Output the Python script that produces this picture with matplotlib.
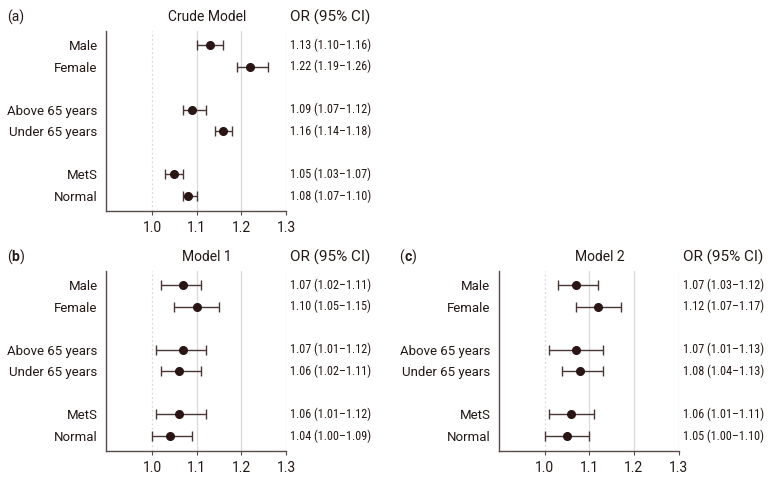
import matplotlib
matplotlib.use("Agg")
import matplotlib.pyplot as plt

plt.rcParams['font.family'] = ['Roboto', 'DejaVu Sans']
NUMFAM = ['Roboto Condensed', 'Roboto', 'DejaVu Sans']

labels = ["Male", "Female", "Above 65 years", "Under 65 years", "MetS", "Normal"]
ypos = [0, 1, 3, 4, 6, 7]

crude_or = [1.13, 1.22, 1.09, 1.16, 1.05, 1.08]
crude_lo = [1.10, 1.19, 1.07, 1.14, 1.03, 1.07]
crude_hi = [1.16, 1.26, 1.12, 1.18, 1.07, 1.10]

m1_or = [1.07, 1.10, 1.07, 1.06, 1.06, 1.04]
m1_lo = [1.02, 1.05, 1.01, 1.02, 1.01, 1.00]
m1_hi = [1.11, 1.15, 1.12, 1.11, 1.12, 1.09]

m2_or = [1.07, 1.12, 1.07, 1.08, 1.06, 1.05]
m2_lo = [1.03, 1.07, 1.01, 1.04, 1.01, 1.00]
m2_hi = [1.12, 1.17, 1.13, 1.13, 1.11, 1.10]

xticks = [1.0, 1.1, 1.2, 1.3]

W, H = 769, 479
fig = plt.figure(figsize=(W / 100, H / 100), dpi=100)

SPINE = '#5a4a4a'
MARK = '#2a1515'
ERR = '#4a3535'
TXT = '#231815'
FS = 9.5


def panel(left_px, top_px, tag, title, orv, lo, hi):
    right_px = left_px + 180
    bottom_px = top_px + 180
    ax = fig.add_axes([left_px / W, 1 - bottom_px / H, (right_px - left_px) / W,
                       (bottom_px - top_px) / H])
    ax.set_xlim(0.897, 1.3)
    ax.set_ylim(7.7, -0.65)
    for x in [1.1, 1.2, 1.3]:
        ax.axvline(x, color='#d9d9d9', lw=0.9, zorder=0)
    ax.axvline(1.0, color='#d9d9d9', lw=0.9, ls=(0, (1.5, 2)), zorder=0)
    errs = [[o - l for o, l in zip(orv, lo)], [h - o for o, h in zip(orv, hi)]]
    ax.errorbar(orv, ypos, xerr=errs, fmt='o', color=MARK, ecolor=ERR,
                elinewidth=1.0, capsize=3.5, capthick=1.0, markersize=5.5, zorder=3)
    ax.set_yticks(ypos)
    ax.set_yticklabels(labels, fontsize=FS, color=TXT)
    ax.set_xticks(xticks)
    ax.set_xticklabels([f"{t:.1f}" for t in xticks], fontsize=FS + 0.5, color=TXT)
    ax.tick_params(axis='y', length=0, pad=6)
    ax.tick_params(axis='x', length=3, width=0.8, color=SPINE, pad=4)
    for s in ['top', 'right']:
        ax.spines[s].set_visible(False)
    for s in ['left', 'bottom']:
        ax.spines[s].set_color(SPINE)
        ax.spines[s].set_linewidth(1.0)
    for o, l, h, y in zip(orv, lo, hi, ypos):
        ax.text(1.31, y, f"{o:.2f} ({l:.2f}\u2013{h:.2f})", transform=ax.transData,
                ha='left', va='center', fontsize=8.7, family=NUMFAM,
                color=TXT, clip_on=False)
    hy = (top_px - 14)
    fig.text((left_px + 101) / W, 1 - hy / H, title, ha='center', va='center',
             fontsize=10, color=TXT)
    fig.text((left_px + 184) / W, 1 - hy / H, "OR (95% CI)", ha='left', va='center',
             fontsize=11, color=TXT)
    if tag:
        fig.text((left_px - 99) / W, 1 - hy / H, tag, ha='left', va='center',
                 fontsize=10, color=TXT)
    return ax


panel(106, 31, "(a)", "Crude Model", crude_or, crude_lo, crude_hi)
panel(106, 271, "", "Model 1", m1_or, m1_lo, m1_hi)
panel(498.6, 271, "", "Model 2", m2_or, m2_lo, m2_hi)

fig.canvas.draw()
r = fig.canvas.get_renderer()
for lp, letter in [(106, 'b'), (498.6, 'c')]:
    x0 = (lp - 99) / W
    y0 = 1 - (271 - 14) / H
    t = fig.text(x0, y0, "(", ha='left', va='center', fontsize=10, color=TXT)
    bb = t.get_window_extent(r)
    t2 = fig.text(bb.x1 / W, y0, letter, ha='left', va='center', fontsize=10,
                  color=TXT, fontweight='bold')
    bb2 = t2.get_window_extent(r)
    fig.text(bb2.x1 / W, y0, ")", ha='left', va='center', fontsize=10, color=TXT)

fig.savefig("out.png", dpi=100)
